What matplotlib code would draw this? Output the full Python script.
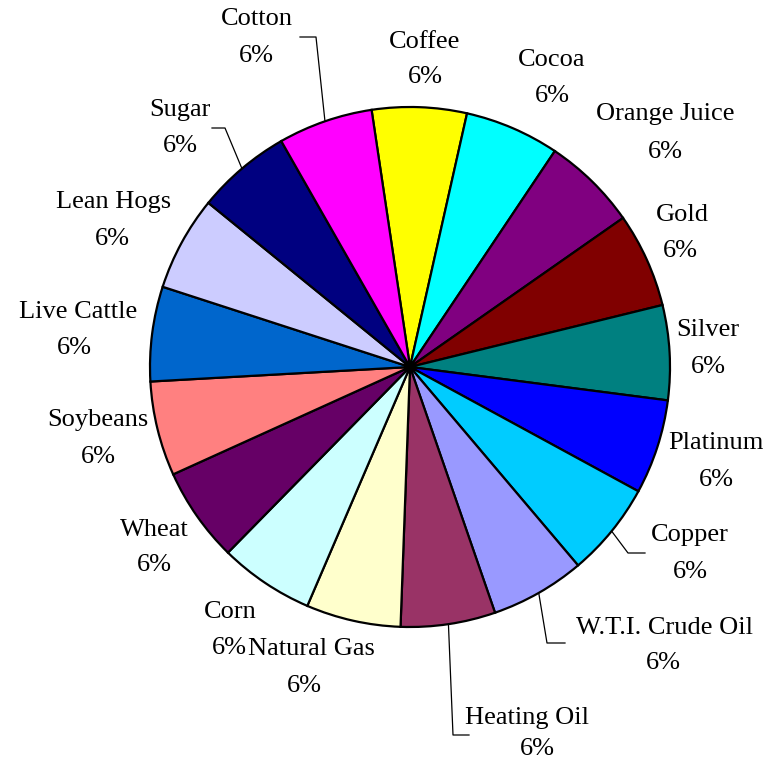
import numpy as np
import matplotlib
matplotlib.use("Agg")
import matplotlib.pyplot as plt

# ---- data ----
categories = ["Coffee", "Cocoa", "Orange Juice", "Gold", "Silver", "Platinum",
              "Copper", "W.T.I. Crude Oil", "Heating Oil", "Natural Gas", "Corn",
              "Wheat", "Soybeans", "Live Cattle", "Lean Hogs", "Sugar", "Cotton"]
weights = [5.88, 5.88, 5.88, 5.88, 5.88, 5.88, 5.88, 5.88, 5.88,
           5.88, 5.88, 5.88, 5.88, 5.88, 5.88, 5.88, 5.88]
pct_labels = ["6%"] * 17
colors = ["#FFFF00", "#00FFFF", "#800080", "#800000", "#008080", "#0000FF",
          "#00CCFF", "#9999FF", "#993366", "#FFFFCC", "#CCFFFF",
          "#660066", "#FF8080", "#0066CC", "#CCCCFF", "#000080", "#FF00FF"]

# label layout (pixel coords, origin top-left): name centre and percent centre
name_pos = [(425, 42), (552, 60), (665, 114), (682, 215), (708, 330), (716, 443),
            (690, 535), (664, 628), (527, 718), (311, 649), (230, 612),
            (154, 530), (98, 420), (78, 312), (114, 202), (180, 110), (257, 19)]
pct_pos = [(425, 77), (552, 96), (665, 152), (680, 251), (708, 367), (716, 480),
           (690, 572), (663, 663), (537, 749), (304, 686), (229, 648),
           (154, 565), (98, 457), (74, 348), (112, 239), (180, 146), (256, 56)]
# leader elbows for labels that use leader lines: index -> list of points
leaders = {6: [(628, 553), (645, 553)],
           7: [(547, 643), (565, 643)],
           8: [(453, 735), (469, 735)],
           15: [(225, 128), (212, 128)],
           16: [(316, 37), (300, 37)]}

W, H = 781, 761
fig = plt.figure(figsize=(W / 100, H / 100), dpi=100)
ax = fig.add_axes([0, 0, 1, 1])
ax.set_xlim(0, W)
ax.set_ylim(0, H)
ax.set_aspect("equal")
ax.axis("off")

cx, cy, r = 410, H - 367, 260
start = 98.5
wedges, _ = ax.pie(weights, colors=colors, startangle=start, counterclock=False,
                   center=(cx, cy), radius=r,
                   wedgeprops=dict(edgecolor="black", linewidth=1.6))
ax.set_xlim(0, W)
ax.set_ylim(0, H)

font = dict(family=["Liberation Serif", "DejaVu Serif"], fontsize=19, color="black")
for i, (name, pct) in enumerate(zip(categories, pct_labels)):
    nx, ny = name_pos[i]
    px, py = pct_pos[i]
    ax.text(nx, H - ny, name, ha="center", va="center", **font)
    ax.text(px, H - py, pct, ha="center", va="center", **font)

for i, pts in leaders.items():
    w = wedges[i]
    mid = np.deg2rad((w.theta1 + w.theta2) / 2)
    x0 = cx + r * np.cos(mid)
    y0 = cy + r * np.sin(mid)
    xs = [x0] + [p[0] for p in pts]
    ys = [y0] + [H - p[1] for p in pts]
    ax.plot(xs, ys, color="black", linewidth=0.9)

fig.savefig("out.png", dpi=100, facecolor="white")
